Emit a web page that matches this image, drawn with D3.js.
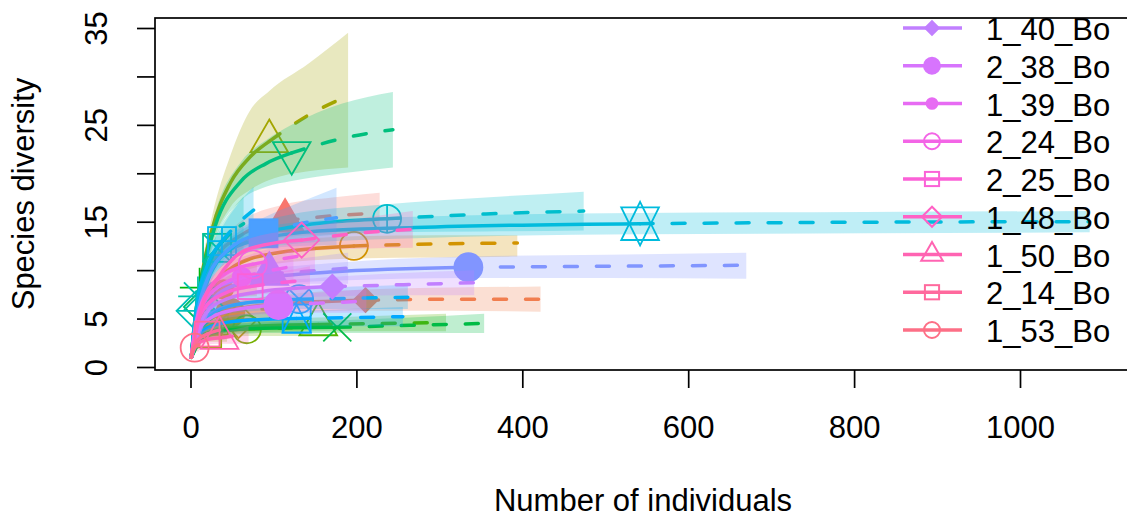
<!DOCTYPE html>
<html><head><meta charset="utf-8">
<script src="https://cdn.jsdelivr.net/npm/d3@7"></script>
<style>body{margin:0;background:#fff}svg{display:block}text{font-family:"Liberation Sans",Arial,sans-serif;fill:#000}</style>
</head><body><svg id="c" width="1127" height="520"></svg>
<script>
// ---------- data ----------
const xTicks = [0, 200, 400, 600, 800, 1000];
const yTicks = [0, 5, 10, 15, 20, 25, 30, 35];
const yTickLabels = ["0", "5", "", "15", "", "25", "", "35"];
const legendNames = ["1_40_Bo","2_38_Bo","1_39_Bo","2_24_Bo","2_25_Bo","1_48_Bo","1_50_Bo","2_14_Bo","1_53_Bo"];
const legendFirstSite = 26; // 0-based index of the site shown as first visible legend row

// observed sample size per site (35 sites)
const obsN = [114,211,48,40,197,30,58,95,22,68,154,11,177,16,122,32,9,7,237,542,38,131,128,88,335,95,171,106,62,75,72,134,35,20,5];

const curveX = [
 [1,11,28,57,114,171,228],
 [1,21,53,105,211,316,422],
 [1,5,12,24,48,72,96],
 [1,4,10,20,40,60,80],
 [1,20,49,98,197,296,394],
 [1,3,8,15,30,45,60],
 [1,6,15,29,58,87,116],
 [1,10,26,48,72,95,142,190],
 [1,3,6,11,22,33,44],
 [1,7,17,34,68,102,136],
 [1,15,38,77,154,231,308],
 [1,2,4,6,11,16,22],
 [1,18,44,88,177,265,354],
 [1,2,4,8,16,24,32],
 [1,12,30,61,91,122,183,244],
 [1,3,8,16,32,48,64],
 [1,2,3,5,9,14,18],
 [1,2,3,4,7,10,14],
 [1,24,59,118,237,356,474],
 [1,20,54,135,271,542,813,1084],
 [1,4,10,19,38,57,76],
 [1,13,33,66,131,197,262],
 [1,13,32,64,128,192,256],
 [1,9,22,44,88,132,176],
 [1,34,84,168,335,503,670],
 [1,10,24,48,95,143,190],
 [1,17,43,86,171,257,342],
 [1,11,27,53,106,159,212],
 [1,6,16,31,62,93,124],
 [1,8,19,38,75,113,150],
 [1,7,18,36,72,108,144],
 [1,13,34,67,134,201,268],
 [1,4,9,18,35,53,70],
 [1,2,5,10,20,30,40],
 [1,2,3,4,5,7,10]
];
const curveY = [
 [1,6.8,10.8,13.4,15.1,15.6,15.9],
 [1,4.8,5.9,6.5,6.9,7.0,7.0],
 [1,3.0,4.2,5.0,5.6,5.9,6.0],
 [1,3.2,5.0,6.6,8.0,8.6,9.0],
 [1,7.4,10.2,11.7,12.5,12.7,12.8],
 [1,2.2,3.3,4.0,4.6,4.8,5.0],
 [1,2.9,3.9,4.4,4.8,5.0,5.1],
 [1,7.6,14.2,19.0,21.7,23.3,26.0,28.0],
 [1,1.9,2.5,2.9,3.3,3.5,3.6],
 [1,2.8,3.4,3.7,3.9,4.0,4.1],
 [1,3.2,3.9,4.2,4.4,4.5,4.6],
 [1,2.0,3.8,5.4,8.2,9.8,11.0],
 [1,3.3,3.8,4.0,4.1,4.3,4.5],
 [1,1.9,3.2,4.6,6.2,7.0,7.4],
 [1,8.4,14.6,19.2,21.0,22.1,23.6,24.5],
 [1,2.9,6.2,9.0,12.3,13.8,14.8],
 [1,2.0,2.9,4.6,7.3,8.7,9.5],
 [1,1.9,2.8,3.6,5.8,6.8,7.5],
 [1,9.6,12.8,14.4,15.3,15.8,16.1],
 [1,9.4,12.4,13.9,14.4,14.8,14.95,15.0],
 [1,3.8,7.6,10.2,13.0,14.8,16.2],
 [1,4.6,5.9,6.6,7.0,7.1,7.2],
 [1,3.6,4.4,4.8,5.0,5.1,5.2],
 [1,5.8,9.4,12.0,13.8,14.8,15.4],
 [1,7.6,9.1,9.8,10.3,10.4,10.5],
 [1,5.4,7.6,8.8,9.6,9.9,10.2],
 [1,5.4,7.0,7.8,8.3,8.5,8.7],
 [1,4.0,5.2,5.9,6.4,6.6,6.8],
 [1,4.2,6.6,8.1,9.3,9.9,10.4],
 [1,5.0,7.6,9.4,10.6,11.2,11.7],
 [1,4.2,6.2,7.4,8.3,8.7,9.0],
 [1,6.0,9.3,12.1,13.1,13.8,14.2],
 [1,1.9,2.4,2.8,3.0,3.2,3.3],
 [1,1.7,2.4,2.9,3.4,3.7,3.9],
 [1,1.4,1.7,1.9,2.0,2.2,2.3]
];
const curveLo = [
 [1,6.0,9.6,12.0,13.4,13.7,13.8],
 [1,4.2,5.1,5.6,5.8,5.8,5.7],
 [1,2.6,3.6,4.3,4.7,4.8,4.8],
 [1,2.8,4.4,5.8,6.9,7.2,7.3],
 [1,6.6,9.2,10.6,11.2,11.3,11.4],
 [1,1.9,2.8,3.4,3.8,3.8,3.8],
 [1,2.5,3.3,3.7,3.9,3.9,3.9],
 [1,6.8,12.6,16.5,18.3,19.3,20.2,20.6],
 [1,1.6,2.1,2.4,2.6,2.6,2.6],
 [1,2.4,2.9,3.1,3.2,3.2,3.2],
 [1,2.8,3.4,3.6,3.7,3.7,3.7],
 [1,2.0,3.6,5.0,7.4,8.2,8.6],
 [1,2.9,3.3,3.5,3.5,3.5,3.5],
 [1,1.9,2.9,4.1,5.4,5.8,5.9],
 [1,7.6,13.2,17.2,18.6,19.2,20.0,20.6],
 [1,2.7,5.6,8.0,10.8,11.6,12.0],
 [1,2.0,2.8,4.2,6.5,7.3,7.6],
 [1,1.9,2.7,3.4,5.2,5.7,6.0],
 [1,8.7,11.6,13.1,13.9,14.0,14.1],
 [1,8.5,11.3,12.8,13.3,13.7,13.8,13.9],
 [1,3.5,6.9,9.2,11.6,12.4,12.9],
 [1,4.0,5.2,5.7,6.0,6.0,6.0],
 [1,3.1,3.8,4.1,4.2,4.2,4.2],
 [1,5.2,8.5,10.8,12.2,12.5,12.6],
 [1,6.9,8.3,8.9,9.2,9.2,9.1],
 [1,4.8,6.8,7.9,8.5,8.6,8.6],
 [1,4.8,6.3,7.0,7.3,7.4,7.4],
 [1,3.5,4.6,5.2,5.5,5.6,5.6],
 [1,3.8,6.0,7.3,8.3,8.6,8.7],
 [1,4.5,6.9,8.5,9.5,9.8,9.9],
 [1,3.8,5.6,6.7,7.4,7.6,7.6],
 [1,5.4,8.5,11.1,11.9,12.2,12.3],
 [1,1.6,2.0,2.3,2.4,2.4,2.4],
 [1,1.7,2.1,2.5,2.8,2.9,2.9],
 [1,1.2,1.4,1.5,1.6,1.6,1.6]
];
const curveHi = [
 [1,7.6,12.0,14.8,16.8,17.5,18.0],
 [1,5.4,6.7,7.4,8.0,8.2,8.3],
 [1,3.4,4.8,5.7,6.5,7.0,7.3],
 [1,3.6,5.6,7.4,9.1,10.0,10.7],
 [1,8.2,11.2,12.8,13.5,13.6,13.6],
 [1,2.5,3.8,4.6,5.4,5.8,6.2],
 [1,3.3,4.5,5.1,5.7,6.1,6.3],
 [1,8.4,15.6,21.8,26.5,28.5,31.3,34.5],
 [1,2.2,2.9,3.4,4.0,4.3,4.6],
 [1,3.2,3.9,4.3,4.6,4.8,5.0],
 [1,3.6,4.4,4.8,5.1,5.3,5.5],
 [1,2.0,4.0,5.8,9.0,11.4,13.5],
 [1,3.7,4.3,4.6,4.8,5.1,5.5],
 [1,1.9,3.5,5.1,7.0,8.2,8.9],
 [1,9.2,16.0,21.2,23.4,25.0,27.2,28.4],
 [1,3.1,6.8,10.0,13.8,16.0,17.6],
 [1,2.0,3.0,5.0,8.1,10.1,11.4],
 [1,1.9,2.9,3.8,6.4,7.9,9.0],
 [1,10.5,14.0,15.7,16.8,17.5,18.1],
 [1,10.3,13.5,15.0,15.5,15.9,16.0,16.1],
 [1,4.1,8.3,11.2,14.4,16.8,18.6],
 [1,5.2,6.6,7.5,8.0,8.3,8.5],
 [1,4.1,5.0,5.5,5.8,6.0,6.2],
 [1,6.4,10.3,13.2,15.4,17.0,18.5],
 [1,8.3,9.9,10.7,11.4,11.6,11.8],
 [1,6.0,8.4,9.7,10.7,11.3,11.8],
 [1,6.0,7.7,8.6,9.3,9.7,10.0],
 [1,4.5,5.8,6.6,7.3,7.7,8.0],
 [1,4.6,7.2,8.9,10.3,11.2,12.1],
 [1,5.5,8.3,10.3,11.7,12.6,13.5],
 [1,4.6,6.8,8.1,9.2,9.8,10.4],
 [1,6.6,10.1,13.1,14.3,15.3,16.1],
 [1,2.2,2.8,3.3,3.6,3.9,4.2],
 [1,1.7,2.7,3.3,4.0,4.5,4.9],
 [1,1.6,2.0,2.3,2.4,2.8,3.0]
];

// ---------- colours: R hcl() hue palette (as in iNEXT) ----------
function hclR(h, c, l) {
  const WY = 100, Wu = 0.1978398, Wv = 0.4683363;
  const hr = h * Math.PI / 180, U = c * Math.cos(hr), V = c * Math.sin(hr);
  const Y = WY * (l > 7.999592 ? Math.pow((l + 16) / 116, 3) : l / 903.3);
  const u = U / (13 * l) + Wu, v = V / (13 * l) + Wv;
  const X = 9 * Y * u / (4 * v), Z = -X / 3 - 5 * Y + 3 * Y / v;
  const g = t => { t = t > 0.00304 ? 1.055 * Math.pow(t, 1 / 2.4) - 0.055 : 12.92 * t; return Math.round(255 * Math.max(0, Math.min(1, t))); };
  return d3.rgb(g((3.240479 * X - 1.537150 * Y - 0.498535 * Z) / WY),
                g((-0.969256 * X + 1.875992 * Y + 0.041556 * Z) / WY),
                g((0.055648 * X - 0.204043 * Y + 1.057311 * Z) / WY)).formatHex();
}
const nSite = obsN.length;
const cols = d3.range(nSite).map(i => hclR(15 + i * 360 / nSite, 100, 65));
const pchs = d3.range(nSite).map(i => (16 + i + 1) % 25);

// ---------- layout ----------
const svg = d3.select("#c");
const x = d3.scaleLinear().domain([0, 1000]).range([190.5, 1020]);
const y = d3.scaleLinear().domain([0, 35]).range([367, 28]);
const box = {l: 155, r: 1136, t: 18, b: 370};
const FS = 31;

svg.append("defs").append("clipPath").attr("id", "pc").append("rect")
  .attr("x", box.l).attr("y", box.t).attr("width", box.r - box.l).attr("height", box.b - box.t);
const plot = svg.append("g").attr("clip-path", "url(#pc)");

function pch(g, p, cx, cy, R, col, lw) {
  const s = g.append("g").attr("stroke", col).attr("stroke-width", lw).attr("fill", "none").attr("stroke-linejoin", "miter");
  const poly = (pts, fill) => s.append("polygon").attr("points", pts.map(q => q.join(",")).join(" ")).attr("fill", fill || "none");
  const line = (x1, y1, x2, y2) => s.append("line").attr("x1", x1).attr("y1", y1).attr("x2", x2).attr("y2", y2);
  const sq = (h, fill) => s.append("rect").attr("x", cx - h).attr("y", cy - h).attr("width", 2 * h).attr("height", 2 * h).attr("fill", fill || "none");
  const circ = (r, fill) => s.append("circle").attr("cx", cx).attr("cy", cy).attr("r", r).attr("fill", fill || "none");
  const r = 1.5551 * R, yc = 0.7776 * R, xc = 1.3468 * R;
  const triUp = fill => poly([[cx, cy - r], [cx + xc, cy + yc], [cx - xc, cy + yc]], fill);
  const triDn = fill => poly([[cx, cy + r], [cx + xc, cy - yc], [cx - xc, cy - yc]], fill);
  const dia = (h, fill) => poly([[cx - h, cy], [cx, cy - h], [cx + h, cy], [cx, cy + h]], fill);
  const plus = h => { line(cx - h, cy, cx + h, cy); line(cx, cy - h, cx, cy + h); };
  const cross = h => { line(cx - h, cy - h, cx + h, cy + h); line(cx - h, cy + h, cx + h, cy - h); };
  switch (p) {
    case 0: sq(0.886 * R); break;
    case 1: circ(R); break;
    case 2: case 24: triUp(); break;
    case 3: plus(1.414 * R); break;
    case 4: cross(R); break;
    case 5: dia(1.414 * R); break;
    case 6: case 25: triDn(); break;
    case 7: sq(R); cross(R); break;
    case 8: cross(R); plus(1.414 * R); break;
    case 9: dia(1.414 * R); plus(1.414 * R); break;
    case 10: circ(R); plus(R); break;
    case 11: { const y2 = 0.5 * (yc + r);
      poly([[cx, cy + r], [cx + xc, cy - y2], [cx - xc, cy - y2]]);
      poly([[cx, cy - r], [cx + xc, cy + y2], [cx - xc, cy + y2]]); break; }
    case 12: sq(R); plus(R); break;
    case 13: circ(R); cross(0.707 * R); break;
    case 14: sq(R); poly([[cx, cy - R], [cx + R, cy + R], [cx - R, cy + R]]); break;
    case 15: sq(R, col); break;
    case 16: circ(R, col); break;
    case 17: triUp(col); break;
    case 18: dia(0.85 * R, col); break;
    case 19: circ(R, col); break;
    case 20: circ(0.667 * R, col); break;
    case 21: circ(R); break;
    case 22: sq(0.886 * R); break;
    case 23: dia(1.2533 * R); break;
  }
}

const area = d3.area().curve(d3.curveMonotoneX).x(d => x(d.x)).y0(d => y(d.lo)).y1(d => y(d.hi));
const ln = d3.line().curve(d3.curveMonotoneX).x(d => x(d.x)).y(d => y(d.y));
const LW = 3.5;

for (let i = 0; i < nSite; i++) {
  const pts = curveX[i].map((xv, k) => ({x: xv, y: curveY[i][k], lo: curveLo[i][k], hi: curveHi[i][k]}));
  const n = obsN[i];
  const interp = pts.filter(p => p.x <= n), extra = pts.filter(p => p.x >= n);
  const obs = pts.find(p => p.x === n);
  plot.append("path").datum(pts).attr("d", area).attr("fill", cols[i]).attr("fill-opacity", 0.25);
  plot.append("path").datum(interp).attr("d", ln).attr("fill", "none").attr("stroke", cols[i])
    .attr("stroke-width", LW).attr("stroke-linecap", "round").attr("stroke-linejoin", "round");
  plot.append("path").datum(extra).attr("d", ln).attr("fill", "none").attr("stroke", cols[i])
    .attr("stroke-width", LW).attr("stroke-dasharray", "13,19").attr("stroke-linecap", "round");
  pch(plot, pchs[i], x(obs.x), y(obs.y), 14, cols[i], 1.8);
}

// ---------- axes ----------
const xAxis = svg.append("g").attr("transform", `translate(0,${box.b})`)
  .call(d3.axisBottom(x).tickValues(xTicks).tickSize(18).tickSizeOuter(0).tickFormat(d3.format("d")));
xAxis.select(".domain").remove();
xAxis.selectAll("line").attr("stroke", "#000").attr("stroke-width", 1.7);
xAxis.selectAll("text").attr("y", 68).attr("dy", null).attr("font-size", FS)
  .style("font-family", '"Liberation Sans",Arial,sans-serif').attr("fill", "#000");

const yAxis = svg.append("g").attr("transform", `translate(${box.l},0)`)
  .call(d3.axisLeft(y).tickValues(yTicks).tickSize(18).tickSizeOuter(0).tickFormat((d, k) => yTickLabels[k]));
yAxis.select(".domain").remove();
yAxis.selectAll("line").attr("stroke", "#000").attr("stroke-width", 1.7);
yAxis.selectAll("text").attr("x", null).attr("dy", null).attr("text-anchor", "middle")
  .attr("transform", "translate(-48,0) rotate(-90)").attr("font-size", FS)
  .style("font-family", '"Liberation Sans",Arial,sans-serif').attr("fill", "#000");

svg.append("rect").attr("x", box.l).attr("y", box.t).attr("width", box.r - box.l).attr("height", box.b - box.t)
  .attr("fill", "none").attr("stroke", "#000").attr("stroke-width", 1.7);

svg.append("text").attr("x", 643).attr("y", 511).attr("text-anchor", "middle").attr("font-size", FS).text("Number of individuals");
svg.append("text").attr("transform", "translate(34,194) rotate(-90)").attr("text-anchor", "middle").attr("font-size", FS).text("Species diversity");

// ---------- legend (bottom-right, rows above the top are clipped) ----------
const leg = svg.append("g");
legendNames.forEach((name, k) => {
  const i = legendFirstSite + k;
  const ry = 330 - (legendNames.length - 1 - k) * 37.75;
  leg.append("line").attr("x1", 903).attr("x2", 962).attr("y1", ry).attr("y2", ry)
    .attr("stroke", cols[i]).attr("stroke-width", LW);
  pch(leg, pchs[i], 932, ry, 8, cols[i], 2);
  leg.append("text").attr("x", 986).attr("y", ry + 12).attr("font-size", FS).text(name);
});
</script></body></html>
